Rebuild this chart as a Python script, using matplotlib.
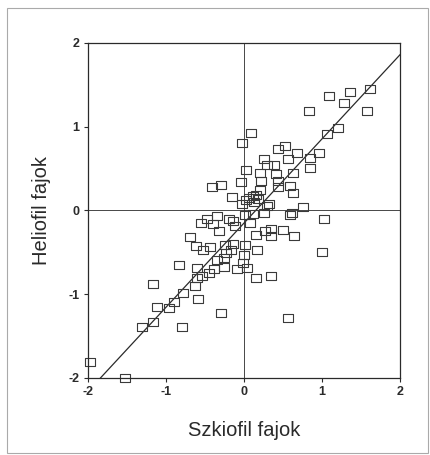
import matplotlib
matplotlib.use("Agg")
import matplotlib.pyplot as plt
from matplotlib.patches import Rectangle

plt.rcParams['font.family'] = ['Liberation Sans', 'DejaVu Sans']

x_vals = [-1.97, -1.53, -1.31, -1.17, -1.17, -1.11, -0.96, -0.90, -0.80, -0.78,
          -0.83, -0.63, -0.59, -0.60, -0.60, -0.54, -0.69, -0.61, -0.53, -0.55,
          -0.48, -0.44, -0.45, -0.38, -0.35, -0.40, -0.34, -0.32, -0.29, -0.26,
          -0.26, -0.23, -0.25, -0.19, -0.14, -0.12, -0.17, -0.14, -0.09, -0.01,
          0.00, 0.01, 0.04, 0.08, 0.11, 0.17, 0.15, 0.16, 0.34, 0.27,
          0.35, 0.35, 0.50, 0.64, 1.00, 1.03, 0.56, 0.59, 0.62, 0.75,
          0.26, 0.32, 0.30, -0.03, 0.02, 0.06, 0.12, 0.16, 0.13, 0.18,
          0.21, 0.22, 0.21, 0.26, 0.30, 0.39, 0.41, 0.43, 0.44, 0.44,
          0.53, 0.56, 0.59, 0.63, 0.63, 0.68, 0.85, 0.85, 0.96, 1.06,
          1.21, 0.83, 1.09, 1.28, 1.36, 1.62, 1.58, -0.04, 0.03, -0.02,
          0.09, -0.41, -0.30, -0.15, 0.01]
y_vals = [-1.81, -2.00, -1.39, -1.33, -0.88, -1.15, -1.16, -1.09, -1.39, -0.99,
          -0.65, -0.90, -1.06, -0.81, -0.69, -0.78, -0.32, -0.42, -0.47, -0.15,
          -0.10, -0.44, -0.75, -0.70, -0.59, -0.16, -0.07, -0.24, -1.22, -0.67,
          -0.57, -0.51, -0.41, -0.10, -0.13, -0.18, -0.47, -0.40, -0.70, -0.63,
          -0.53, -0.41, -0.69, -0.15, -0.04, -0.47, -0.29, -0.80, -0.78, -0.24,
          -0.22, -0.31, -0.23, -0.31, -0.50, -0.10, -1.28, -0.05, -0.03, 0.04,
          -0.03, 0.08, 0.05, 0.08, 0.13, 0.15, 0.17, 0.18, 0.10, 0.14,
          0.25, 0.35, 0.45, 0.62, 0.54, 0.54, 0.44, 0.35, 0.28, 0.73,
          0.77, 0.62, 0.29, 0.21, 0.45, 0.69, 0.63, 0.51, 0.69, 0.91,
          0.98, 1.19, 1.37, 1.28, 1.42, 1.45, 1.19, 0.34, 0.48, 0.80,
          0.92, 0.28, 0.31, 0.16, -0.05]

fit_slope = 1.005
fit_intercept = -0.15
line_x = [-2.0, 2.0]

x_ticks = [-2, -1, 0, 1, 2]
y_ticks = [-2, -1, 0, 1, 2]
x_label = "Szkiofil fajok"
y_label = "Heliofil fajok"

fig = plt.figure(figsize=(4.30, 4.55), dpi=100)
fig.patches.append(Rectangle((7 / 430, 2 / 455), 421 / 430, 445 / 455,
                             transform=fig.transFigure, fill=False,
                             edgecolor='#aaaaaa', linewidth=0.8))
ax = fig.add_axes([88 / 430, 77 / 455, 312 / 430, 335 / 455])

ink = '#2a2a2a'
ax.axhline(0, color=ink, linewidth=0.6)
ax.axvline(0, color=ink, linewidth=0.6)

ax.plot(line_x, [fit_slope * v + fit_intercept for v in line_x],
        color=ink, linewidth=0.9)

rect_marker = [(-1.35, -1), (1.35, -1), (1.35, 1), (-1.35, 1), (-1.35, -1)]
ax.plot(x_vals, y_vals, linestyle='none', marker=rect_marker, markersize=7.5,
        markerfacecolor='none', markeredgecolor='#3a3a3a', markeredgewidth=0.8,
        clip_on=False)

ax.set_xlim(-2, 2)
ax.set_ylim(-2, 2)
ax.set_xticks(x_ticks)
ax.set_yticks(y_ticks)
ax.set_xticklabels([str(t) for t in x_ticks], fontsize=9, fontweight='bold', color=ink)
ax.set_yticklabels([str(t) for t in y_ticks], fontsize=9, fontweight='bold', color=ink)
ax.tick_params(direction='out', length=3, width=0.8, color=ink, pad=3)
for s in ax.spines.values():
    s.set_color(ink)
    s.set_linewidth(0.9)

ax.set_xlabel(x_label, fontsize=14.5, color=ink, labelpad=16.5)
ax.set_ylabel(y_label, fontsize=14.5, color=ink, labelpad=12.5)

fig.savefig("out.png", dpi=100)
